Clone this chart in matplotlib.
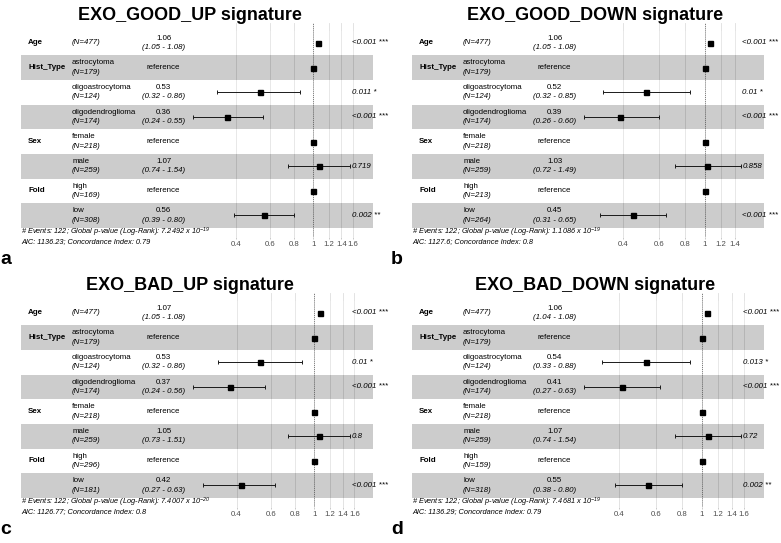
import numpy as np
import matplotlib.pyplot as plt
from matplotlib.ticker import NullLocator
from matplotlib.transforms import offset_copy

plt.rcParams['font.family'] = ['Liberation Sans', 'DejaVu Sans']
plt.rcParams['mathtext.default'] = 'regular'

# rows, top to bottom
variables = ["Age", "Hist_Type", "", "", "Sex", "", "Fold", ""]
levels = ["", "astrocytoma", "oligoastrocytoma", "oligodendroglioma",
          "female", "male", "high", "low"]
nan = np.nan

# a: EXO_GOOD_UP
a_title = "EXO_GOOD_UP signature"
a_n = [477, 179, 124, 174, 218, 259, 169, 308]
a_hr = [1.06, 1, 0.53, 0.36, 1, 1.07, 1, 0.56]
a_lo = [1.05, nan, 0.32, 0.24, nan, 0.74, nan, 0.39]
a_hi = [1.08, nan, 0.86, 0.55, nan, 1.54, nan, 0.80]
a_p = ["<0.001 ***", "", "0.011 *", "<0.001 ***", "", "0.719", "", "0.002 **"]
a_foot = ["7.2492", "-19", "1136.23", "0.79"]
a_ticks = [0.4, 0.6, 0.8, 1, 1.2, 1.4, 1.6]

# b: EXO_GOOD_DOWN
b_title = "EXO_GOOD_DOWN signature"
b_n = [477, 179, 124, 174, 218, 259, 213, 264]
b_hr = [1.06, 1, 0.52, 0.39, 1, 1.03, 1, 0.45]
b_lo = [1.05, nan, 0.32, 0.26, nan, 0.72, nan, 0.31]
b_hi = [1.08, nan, 0.85, 0.60, nan, 1.49, nan, 0.65]
b_p = ["<0.001 ***", "", "0.01 *", "<0.001 ***", "", "0.858", "", "<0.001 ***"]
b_foot = ["1.1086", "-19", "1127.6", "0.8"]
b_ticks = [0.4, 0.6, 0.8, 1, 1.2, 1.4]

# c: EXO_BAD_UP
c_title = "EXO_BAD_UP signature"
c_n = [477, 179, 124, 174, 218, 259, 296, 181]
c_hr = [1.07, 1, 0.53, 0.37, 1, 1.05, 1, 0.42]
c_lo = [1.05, nan, 0.32, 0.24, nan, 0.73, nan, 0.27]
c_hi = [1.08, nan, 0.86, 0.56, nan, 1.51, nan, 0.63]
c_p = ["<0.001 ***", "", "0.01 *", "<0.001 ***", "", "0.8", "", "<0.001 ***"]
c_foot = ["7.4007", "-20", "1126.77", "0.8"]
c_ticks = [0.4, 0.6, 0.8, 1, 1.2, 1.4, 1.6]

# d: EXO_BAD_DOWN
d_title = "EXO_BAD_DOWN signature"
d_n = [477, 179, 124, 174, 218, 259, 159, 318]
d_hr = [1.06, 1, 0.54, 0.41, 1, 1.07, 1, 0.55]
d_lo = [1.04, nan, 0.33, 0.27, nan, 0.74, nan, 0.38]
d_hi = [1.08, nan, 0.88, 0.63, nan, 1.54, nan, 0.80]
d_p = ["<0.001 ***", "", "0.013 *", "<0.001 ***", "", "0.72", "", "0.002 **"]
d_foot = ["7.4681", "-19", "1136.29", "0.79"]
d_ticks = [0.4, 0.6, 0.8, 1, 1.2, 1.4, 1.6]

W, H = 781, 543
fig = plt.figure(figsize=(W / 100, H / 100), dpi=100)

FS = 5.7


def forest(left, top, title, title_x, letter, n, hr, lo, hi, pv, foot, ticks):
    ax = fig.add_axes([left / W, 1 - (top + 214) / H, 366 / W, 214 / H])
    hr, lo, hi = np.array(hr), np.array(lo), np.array(hi)
    y = np.arange(len(hr), 0, -1)

    rb = np.log([np.nanmin(lo), np.nanmax(hi)])
    d = rb[1] - rb[0]
    rp = [rb[0] - 1.1 * d, rb[1] + 0.15 * d]
    wid = rp[1] - rp[0]

    ax.set_xscale('log')
    ax.set_xlim(np.exp(rp[0] - 0.02 * wid), np.exp(rp[1] + 0.02 * wid))
    ax.set_ylim(0.127, 8.81)

    for r in y:
        shade = r % 2 == 1
        ax.fill_betweenx([r - 0.5, r + 0.5], np.exp(rp[0]), np.exp(rp[1]),
                         color='black' if shade else 'white', alpha=0.2,
                         lw=0, zorder=1)

    ax.set_xticks(ticks)
    ax.set_xticklabels(['%g' % t for t in ticks])
    ax.xaxis.set_minor_locator(NullLocator())
    ax.set_yticks([])
    ax.grid(axis='x', color='#DEDEDE', lw=0.6, zorder=0)
    ax.set_axisbelow(True)
    for s in ax.spines.values():
        s.set_visible(False)
    ax.tick_params(axis='x', length=1.5, width=0.5, color='#B3B3B3',
                   labelsize=5.6, labelcolor='#4D4D4D', pad=1.5)

    ax.axvline(1, color='#555555', lw=0.6, ls=(0, (1, 1.5)), zorder=2)
    ok = ~np.isnan(lo)
    ax.errorbar(hr[ok], y[ok], xerr=[hr[ok] - lo[ok], hi[ok] - hr[ok]],
                fmt='none', ecolor='#1a1a1a', elinewidth=0.7, capsize=1.3,
                capthick=0.7, zorder=3)
    ax.plot(hr, y, 's', ms=3.6, color='black', zorder=4)

    xv = np.exp(rp[0] + 0.02 * wid)
    xl = np.exp(rp[0] + 0.145 * wid)
    xe = np.exp(rp[0] + 0.405 * wid)
    off = 0.19
    for i, r in enumerate(y):
        if variables[i]:
            ax.text(xv, r, variables[i], fontsize=FS, fontweight='bold',
                    ha='left', va='center')
        if levels[i]:
            ax.text(xl, r + off, levels[i], fontsize=FS, ha='left', va='center')
            ax.text(xl, r - off, "(N=%d)" % n[i], fontsize=FS, style='italic',
                    ha='left', va='center')
        else:
            ax.text(xl, r, "(N=%d)" % n[i], fontsize=FS, style='italic',
                    ha='left', va='center')
        if np.isnan(lo[i]):
            ax.text(xe, r, "reference", fontsize=FS, ha='center', va='center')
        else:
            ax.text(xe, r + off, "%.2f" % hr[i], fontsize=FS, ha='center',
                    va='center')
            ax.text(xe, r - off, "(%.2f - %.2f)" % (lo[i], hi[i]), fontsize=FS,
                    style='italic', ha='center', va='center')

    # p-values start just right of the largest upper CI
    ptrans = offset_copy(ax.transData, fig=fig, x=2, units='dots')
    for i, r in enumerate(y):
        if pv[i]:
            ax.text(np.exp(rb[1]), r, pv[i], fontsize=FS, style='italic',
                    ha='left', va='center', transform=ptrans)

    ax.text(np.exp(rp[0]), 0.24,
            "# Events: 122; Global p-value (Log-Rank): %s x 10$^{%s}$"
            % (foot[0], foot[1]),
            fontsize=5.3, style='italic', ha='left', va='baseline')
    ax.text(np.exp(rp[0]), -0.1,
            "AIC: %s; Concordance Index: %s" % (foot[2], foot[3]),
            fontsize=5.3, style='italic', ha='left', va='baseline')

    fig.text(title_x / W, 1 - (top - 8) / H, title, fontsize=13,
             fontweight='bold', ha='center', va='center')
    fig.text((left - 14) / W, 1 - (top + 237) / H, letter, fontsize=14,
             fontweight='bold', ha='left', va='center')
    return ax


forest(14, 23, a_title, 190, "a", a_n, a_hr, a_lo, a_hi, a_p, a_foot, a_ticks)
forest(405, 23, b_title, 595.5, "b", b_n, b_hr, b_lo, b_hi, b_p, b_foot, b_ticks)
forest(14, 293, c_title, 190, "c", c_n, c_hr, c_lo, c_hi, c_p, c_foot, c_ticks)
forest(405, 293, d_title, 595.5, "d", d_n, d_hr, d_lo, d_hi, d_p, d_foot, d_ticks)

fig.savefig("out.png", dpi=100)
